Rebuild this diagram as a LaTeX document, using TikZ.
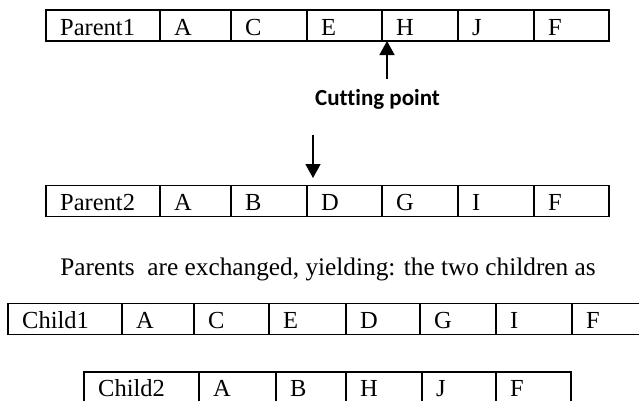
\documentclass[tikz,border=0pt]{standalone}
\usepackage{fontspec}
\setmainfont{Liberation Serif}
\newfontfamily\cutfont[Ligatures=NoCommon]{Carlito}
\usetikzlibrary{arrows.meta}
\tikzset{
  cell/.style={draw=black, line width=1.5pt, minimum height=31pt, inner sep=0pt, outer sep=0pt},
  celltext/.style={inner sep=0pt, font=\fontsize{24.5}{28}\selectfont},
  cutarrow/.style={line width=1.5pt, -{Triangle[width=15pt,length=14pt]}},
}
\begin{document}
\begin{tikzpicture}[x=1pt,y=-1pt]
\useasboundingbox (0,0) rectangle (639,400);
\clip (0,0) rectangle (639,400);
% Parent1
\foreach \l/\r/\t [count=\i] in {46/160/Parent1,160/231/A,231/307/C,307/382/E,382/458/H,458/534/J,534/609/F}{
  \node[cell, minimum width={(\r-\l)*1pt}] (pa\i) at ({(\l+\r)/2},25.5) {};
  \node[celltext, anchor=base west] (pat\i) at (\l+14,35) {\t};
}
% Parent2
\foreach \l/\r/\t [count=\i] in {46/160/Parent2,160/231/A,231/307/B,307/382/D,382/458/G,458/534/I,534/609/F}{
  \node[cell, minimum width={(\r-\l)*1pt}] (pb\i) at ({(\l+\r)/2},201) {};
  \node[celltext, anchor=base west] (pbt\i) at (\l+14,210) {\t};
}
% Child1
\foreach \l/\r/\t [count=\i] in {8/122/Child1,122/194/A,194/269/C,269/346/E,346/420/D,420/496/G,496/572/I,572/650/F}{
  \node[cell, minimum width={(\r-\l)*1pt}] (ca\i) at ({(\l+\r)/2},319) {};
  \node[celltext, anchor=base west] (cat\i) at (\l+14,328) {\t};
}
% Child2
\foreach \l/\r/\t [count=\i] in {84/199/Child2,199/276/A,276/346/B,346/422/H,422/496/J,496/571/F}{
  \node[cell, minimum width={(\r-\l)*1pt}] (cb\i) at ({(\l+\r)/2},387.5) {};
  \node[celltext, anchor=base west] (cbt\i) at (\l+14,396) {\t};
}
% cutting point
\node[inner sep=0pt, anchor=base, font=\cutfont\bfseries\fontsize{23}{26}\selectfont] (cut) at (377.5,105) {Cutting point};
\coordinate (up) at (387,79);
\draw[cutarrow] (up) -- (up |- pa5.south);
\coordinate (dn) at (313,135);
\coordinate (dntip) at (313,178);
\draw[cutarrow] (dn) -- (dntip);
% sentence
\node[inner sep=0pt, anchor=base, font=\fontsize{25.3}{29}\selectfont] (msg) at (328,275) {Parents\ \ are exchanged, yielding: the two children as};
\end{tikzpicture}
\end{document}
